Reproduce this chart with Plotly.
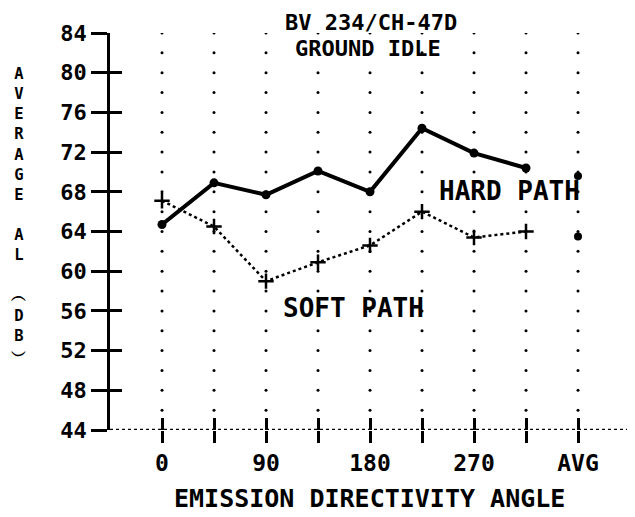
import plotly.graph_objects as go

angles = [0, 45, 90, 135, 180, 225, 270, 315]
hard_path = [64.7, 68.9, 67.7, 70.1, 68.0, 74.4, 71.9, 70.4]
soft_path = [67.1, 64.5, 59.0, 60.9, 62.6, 66.0, 63.4, 64.0]
avg_x = 360
hard_avg = 69.6
soft_avg = 63.5

x_tickvals = [0, 45, 90, 135, 180, 225, 270, 315, 360, 405]
x_ticktext = ["0", "", "90", "", "180", "", "270", "", "AVG", ""]
y_tickvals = [44, 48, 52, 56, 60, 64, 68, 72, 76, 80, 84]
grid_levels = list(range(46, 85, 2))

FONT = "DejaVu Sans Mono"
BLACK = "#000000"

fig = go.Figure()

# grid dots along the vertical grid columns
gx, gy = [], []
for xv in x_tickvals:
    for yv in grid_levels:
        gx.append(xv)
        gy.append(yv)
fig.add_trace(go.Scatter(x=gx, y=gy, mode="markers", xaxis="x2", yaxis="y2",
                         marker=dict(size=3, color=BLACK), hoverinfo="skip",
                         showlegend=False))

fig.add_trace(go.Scatter(x=angles, y=hard_path, mode="lines+markers",
                         line=dict(color=BLACK, width=4),
                         marker=dict(size=9, color=BLACK, symbol="circle"),
                         name="HARD PATH", showlegend=False))
fig.add_trace(go.Scatter(x=angles, y=soft_path, mode="lines+markers",
                         line=dict(color=BLACK, width=2.5, dash="dot"),
                         marker=dict(size=11, symbol="cross-thin",
                                     line=dict(color=BLACK, width=2.5)),
                         name="SOFT PATH", showlegend=False))
fig.add_trace(go.Scatter(x=[avg_x, avg_x], y=[hard_avg, soft_avg], mode="markers",
                         marker=dict(size=8, color=BLACK, symbol="circle"),
                         showlegend=False))

xr = [-45, 405]
yr = [44, 84]

# the page body adds an 8px offset, so the figure is sized to fit the window
fig.update_layout(
    width=627, height=509,
    margin=dict(l=102, r=5, t=25, b=87, autoexpand=False),
    paper_bgcolor="white", plot_bgcolor="white",
    xaxis=dict(range=xr, tickvals=x_tickvals, ticktext=x_ticktext,
               ticks="outside", ticklen=12, tickwidth=2.5, tickcolor=BLACK,
               showgrid=False, zeroline=False, showline=False,
               tickfont=dict(family=FONT, size=23, color=BLACK, weight="bold")),
    yaxis=dict(range=yr, tickvals=y_tickvals,
               ticks="outside", ticklen=16, tickwidth=2.5, tickcolor=BLACK,
               showgrid=False, zeroline=False, showline=True,
               linecolor=BLACK, linewidth=2.5,
               tickfont=dict(family=FONT, size=22, color=BLACK, weight="bold")),
    xaxis2=dict(range=xr, overlaying="x", anchor="y2", side="bottom",
                tickvals=x_tickvals, ticks="inside", ticklen=12, tickwidth=2.5,
                tickcolor=BLACK, showticklabels=False, showgrid=False,
                zeroline=False, showline=False),
    yaxis2=dict(range=yr, overlaying="y", anchor="x2", side="left",
                tickvals=y_tickvals, ticks="inside", ticklen=12, tickwidth=2.5,
                tickcolor=BLACK, showticklabels=False, showgrid=False,
                zeroline=False, showline=False),
)

# dotted bottom axis line
fig.add_shape(type="line", xref="x", yref="y", x0=xr[0], x1=xr[1], y0=yr[0], y1=yr[0],
              line=dict(color=BLACK, width=2.5, dash="dot"))

title_font = dict(family=FONT, size=22, color=BLACK, weight="bold")
label_font = dict(family=FONT, size=26, color=BLACK, weight="bold")
fig.add_annotation(text="BV 234/CH-47D", xref="x", yref="paper", x=181, y=1.027,
                   showarrow=False, font=title_font, yanchor="middle")
fig.add_annotation(text="GROUND IDLE", xref="x", yref="paper", x=178, y=0.96,
                   showarrow=False, font=title_font, yanchor="middle")
fig.add_annotation(text="HARD PATH", xref="x", yref="y", x=301, y=68.1,
                   showarrow=False, font=label_font)
fig.add_annotation(text="SOFT PATH", xref="x", yref="y", x=166, y=56.3,
                   showarrow=False, font=label_font)
fig.add_annotation(text="EMISSION DIRECTIVITY ANGLE", xref="paper", yref="paper",
                   x=(369 - 110) / 520, y=-(499 - 430) / 397, xanchor="center",
                   yanchor="middle", showarrow=False,
                   font=dict(family=FONT, size=25, color=BLACK, weight="bold"))
fig.add_annotation(text="<br>".join(list("AVERAGE") + [""] + list("AL") + [""] + ["︵", "D", "B", "︶"]),
                   xref="paper", yref="paper", x=-0.175, y=0.5416, xanchor="center",
                   yanchor="middle", showarrow=False,
                   font=dict(family=FONT, size=15.5, color=BLACK, weight="bold"))

fig.write_html("out.html")
